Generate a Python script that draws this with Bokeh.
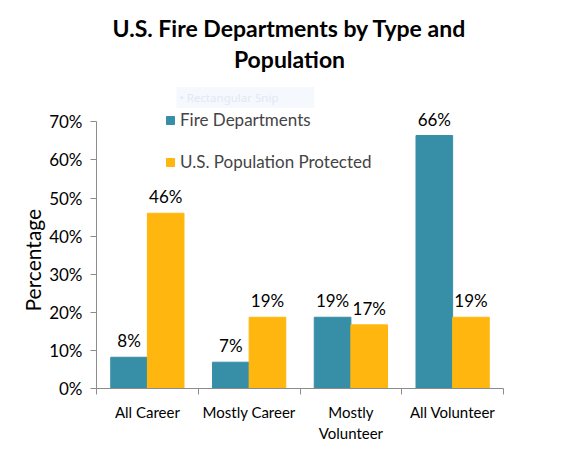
import numpy as np
from bokeh.plotting import figure
from bokeh.core.properties import value
from bokeh.models import ColumnDataSource, FixedTicker, Label, LabelSet, Range1d, Title
from bokeh.transform import dodge
from bokeh.embed import file_html
from bokeh.resources import INLINE

categories = ["All Career", "Mostly Career", "Mostly\nVolunteer", "All Volunteer"]
fire_departments = [8.2, 6.9, 18.7, 66.4]
population_protected = [46.0, 18.7, 16.7, 18.7]
fd_labels = ["8%", "7%", "19%", "66%"]
pop_labels = ["46%", "19%", "17%", "19%"]
y_ticks = [0, 10, 20, 30, 40, 50, 60, 70]

FONT = "Lato"
TEAL = "#378fa7"
GOLD = "#ffb70f"
AXIS = "#8c8c8c"

W, H = 559, 451
B_LEFT, B_RIGHT, B_TOP, B_BOTTOM = 96, 56, 12, 63
PX_PER_PCT = 3.81
y_max = (H - B_TOP - B_BOTTOM) / PX_PER_PCT

pos = np.arange(len(categories)) + 0.5
source = ColumnDataSource(dict(x=pos, fd=fire_departments, pop=population_protected,
                               fd_lab=fd_labels, pop_lab=pop_labels))

p = figure(width=W, height=H, output_backend="svg", toolbar_location=None,
           x_range=Range1d(0, len(categories)), y_range=Range1d(0, y_max),
           min_border_left=B_LEFT, min_border_right=B_RIGHT,
           min_border_top=B_TOP, min_border_bottom=B_BOTTOM)
p.outline_line_color = None
p.grid.grid_line_color = None

p.vbar(x=dodge('x', -0.18), top='fd', width=0.36, source=source, color=TEAL,
       legend_label="Fire Departments")
p.vbar(x=dodge('x', 0.18), top='pop', width=0.36, source=source, color=GOLD,
       legend_label="U.S. Population Protected")

# value labels above bars
for col, lab, off in [('fd', 'fd_lab', -0.18), ('pop', 'pop_lab', 0.18)]:
    p.add_layout(LabelSet(x=dodge('x', off), y=col, text=lab, source=source,
                          text_align="center", text_baseline="alphabetic", y_offset=10,
                          text_font=value(FONT), text_font_size="17px", text_color="black"))

# y axis, line only from 0 to 70
p.yaxis.ticker = FixedTicker(ticks=y_ticks, minor_ticks=[])
p.yaxis.major_label_overrides = {t: f"{t}%" for t in y_ticks}
p.yaxis.bounds = (0, 70)
p.yaxis.major_tick_out = 6
p.yaxis.major_tick_in = 0
p.yaxis.major_label_text_font_size = "17px"
p.add_layout(Title(text="Percentage", align="left", offset=77, text_font=FONT,
                   text_font_size="21px", text_font_style="normal",
                   text_color="black", standoff=4), "left")

# x axis: labels at centres, ticks at the category boundaries
p.xaxis.ticker = FixedTicker(ticks=list(pos), minor_ticks=list(range(len(categories) + 1)))
p.xaxis.major_label_overrides = {float(x): c for x, c in zip(pos, categories)}
p.xaxis.major_tick_out = 0
p.xaxis.major_tick_in = 0
p.xaxis.minor_tick_out = 6
p.xaxis.minor_tick_in = 0
p.xaxis.major_label_text_font_size = "15px"

for ax in (p.xaxis, p.yaxis):
    ax.axis_line_color = AXIS
    ax.major_tick_line_color = AXIS
    ax.minor_tick_line_color = AXIS
    ax.major_label_text_font = FONT
    ax.major_label_text_color = "black"
    ax.major_label_standoff = 8
p.yaxis.minor_tick_line_color = None

# chart title, two centred lines
for txt, sy in [("U.S. Fire Departments by Type and", 361), ("Population", 330)]:
    p.add_layout(Label(x=193, y=sy, x_units="screen", y_units="screen", text=txt,
                       text_align="center", text_baseline="middle", text_font=FONT,
                       text_font_style="bold", text_font_size="23px", text_color="black"))

# faint screen-capture leftover seen in the original
p.add_layout(Label(x=80, y=291, x_units="screen", y_units="screen",
                   text="\u2022   Rectangular Snip         ", text_baseline="middle",
                   text_font="Noto Sans", text_font_size="11.5px", text_color="#e2e8f4",
                   background_fill_color="#f5f8fd", padding=3))

lg = p.legend[0]
lg.location = (69, 216)
lg.padding = 0
lg.margin = 0
lg.spacing = 21
lg.label_height = 20
lg.glyph_height = 10
lg.glyph_width = 10
lg.label_standoff = 5
lg.border_line_color = None
lg.background_fill_alpha = 0
lg.label_text_font = FONT
lg.label_text_font_size = "17px"

open("out.html", "w").write(file_html(p, INLINE))
